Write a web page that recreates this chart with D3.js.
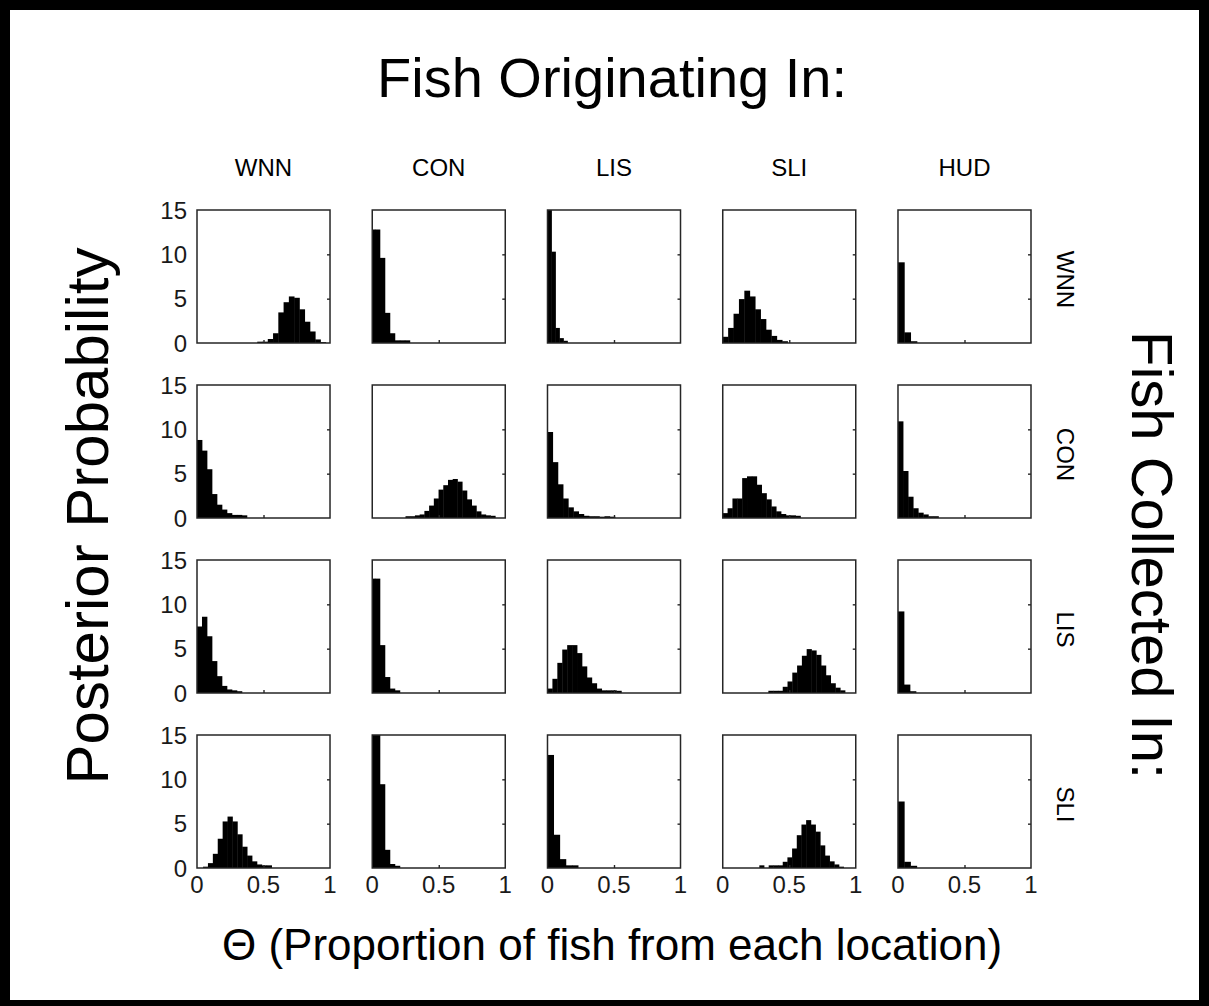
<!DOCTYPE html>
<html>
<head>
<meta charset="utf-8">
<script src="https://cdn.jsdelivr.net/npm/d3@7"></script>
<style>
  html, body { margin: 0; padding: 0; background: #000; }
  svg { display: block; }
  text { font-family: "Liberation Sans", Arial, Helvetica, sans-serif; fill: #000; }
</style>
</head>
<body>
<svg id="chart" width="1209" height="1006"></svg>
<script>
// Source location of the fish (columns) and where they were caught (rows)
const origins = ["WNN", "CON", "LIS", "SLI", "HUD"];
const collectedIn = ["WNN", "CON", "LIS", "SLI"];
const yTickValues = [0, 5, 10, 15];
const xTickValues = [0, 0.5, 1];
const yInnerTicks = [5, 10];
const xInnerTicks = [0.5];

// Posterior histograms of theta, one row per collection site.
// Each entry: lo = left edge of first bin, w = bin width, h = bar heights.
// Bins that start below 0 or run above 15 are cut off by the panel box.
const histWNN = [
  { lo: 0.453, w: 0.0396, h: [0.15, 0.15, 0.45, 1.1, 3.45, 4.6, 5.25, 5.1, 3.8, 2.4, 1.3, 0.4, 0.1] },
  { lo: -0.0175, w: 0.0375, h: [12.8, 12.8, 9.6, 3.4, 1.1, 0.3, 0.3, 0.3] },
  { lo: 0.0, w: 0.03, h: [16, 10.3, 1.7, 0.55, 0.25] },
  { lo: 0.0, w: 0.0406, h: [0.7, 1.7, 3.3, 4.95, 5.9, 5.25, 3.8, 2.7, 1.5, 0.8, 0.35, 0.2] },
  { lo: 0.0, w: 0.0475, h: [9.1, 1.2, 0.2] }
];
const histCON = [
  { lo: 0.0, w: 0.0375, h: [8.8, 7.6, 5.5, 2.7, 1.5, 0.95, 0.55, 0.35, 0.35, 0.3] },
  { lo: 0.25, w: 0.0355, h: [0.2, 0.2, 0.3, 0.4, 0.8, 1.4, 2.2, 3.2, 3.7, 4.3, 4.4, 4.1, 3.1, 2.1, 1.4, 0.75, 0.4, 0.3, 0.25] },
  { lo: 0.0, w: 0.039, h: [9.7, 6.3, 3.8, 2.2, 1.2, 0.75, 0.45, 0.25, 0.2, 0.2, 0.15, 0.2, 0.15] },
  { lo: 0.0, w: 0.0365, h: [0.55, 1.1, 2.2, 2.2, 4.5, 4.7, 4.7, 3.75, 2.8, 2.1, 1.3, 0.75, 0.45, 0.3, 0.3, 0.25] },
  { lo: 0.0, w: 0.038, h: [10.9, 5.3, 2.4, 1.1, 0.6, 0.4, 0.2, 0.2] }
];
const histLIS = [
  { lo: 0.0, w: 0.0375, h: [7.5, 8.6, 6.4, 3.6, 1.9, 0.8, 0.4, 0.3, 0.2] },
  { lo: -0.0175, w: 0.0375, h: [12.9, 12.9, 5.4, 1.8, 0.5, 0.3] },
  { lo: 0.0, w: 0.037, h: [0.5, 1.6, 3.4, 4.9, 5.4, 5.4, 4.5, 3.0, 1.75, 1.1, 0.5, 0.3, 0.3, 0.3, 0.25] },
  { lo: 0.343, w: 0.036, h: [0.25, 0.25, 0.25, 0.7, 1.3, 2.3, 3.1, 4.2, 4.95, 4.8, 4.3, 3.1, 2.0, 1.1, 0.6, 0.3] },
  { lo: 0.0, w: 0.045, h: [9.2, 0.95, 0.2] }
];
const histSLI = [
  { lo: 0.0455, w: 0.0368, h: [0.15, 0.55, 1.6, 3.3, 5.25, 5.8, 5.25, 3.8, 2.4, 1.4, 0.75, 0.4, 0.3, 0.3] },
  { lo: -0.0175, w: 0.0375, h: [16, 16, 9.45, 2.05, 0.45, 0.25] },
  { lo: 0.0, w: 0.046, h: [12.75, 3.75, 1.0, 0.3, 0.3] },
  { lo: 0.275, w: 0.0352, h: [0.3, 0.0, 0.3, 0.3, 0.3, 0.7, 1.2, 2.2, 3.7, 4.9, 5.4, 4.9, 4.1, 2.55, 1.4, 0.75, 0.4, 0.15] },
  { lo: 0.0, w: 0.047, h: [7.5, 0.7, 0.25] }
];
const rows = [histWNN, histCON, histLIS, histSLI];

const svg = d3.select("#chart");

// white page inside a dark frame
svg.append("rect").attr("x", 10).attr("y", 10).attr("width", 1189).attr("height", 990).attr("fill", "#fff");

// panel grid
const colBand = d3.scaleBand().domain(origins).range([197, 1031]).paddingInner(0.241);
const rowBand = d3.scaleBand().domain(collectedIn).range([210, 868]).paddingInner(0.24);
const pw = colBand.bandwidth(), ph = rowBand.bandwidth();

const x = d3.scaleLinear().domain([0, 1]).range([0, pw]);
const y = d3.scaleLinear().domain([0, 15]).range([ph, 0]);

svg.append("defs").append("clipPath").attr("id", "panel-clip")
  .append("rect").attr("width", pw).attr("height", ph);

const tickLen = 3;
const axStroke = "#262626";
const labelFill = "#1a1a1a";

collectedIn.forEach((rowName, r) => {
  origins.forEach((colName, c) => {
    const hist = rows[r][c];
    const g = svg.append("g")
      .attr("transform", `translate(${colBand(colName)},${rowBand(rowName)})`);

    // bars
    const bins = hist.h.map((v, i) => ({ x0: hist.lo + i * hist.w, x1: hist.lo + (i + 1) * hist.w, v }));
    g.append("g").attr("clip-path", "url(#panel-clip)")
      .selectAll("rect").data(bins.filter(b => b.v > 0)).join("rect")
      .attr("x", d => x(d.x0))
      .attr("width", d => x(d.x1) - x(d.x0) + 0.4)
      .attr("y", d => y(d.v))
      .attr("height", d => y(0) - y(d.v))
      .attr("fill", "#000");

    // short inward ticks: bottom edge and right edge
    const bottom = d3.axisBottom(x).tickValues(xInnerTicks).tickSize(-tickLen).tickFormat("");
    const right = d3.axisRight(y).tickValues(yInnerTicks).tickSize(-tickLen).tickFormat("");
    [[bottom, 0, ph], [right, pw, 0]].forEach(([ax, tx, ty]) => {
      const a = g.append("g").attr("transform", `translate(${tx},${ty})`).call(ax);
      a.select(".domain").remove();
      a.selectAll("line").attr("stroke", axStroke).attr("stroke-width", 1.4);
    });

    // box
    g.append("rect").attr("width", pw).attr("height", ph)
      .attr("fill", "none").attr("stroke", axStroke).attr("stroke-width", 1.5);

    // y tick labels on the first column
    if (c === 0) {
      g.append("g").selectAll("text").data(yTickValues).join("text")
        .attr("x", -10).attr("y", d => y(d)).attr("dy", "0.36em")
        .attr("text-anchor", "end").attr("font-size", 24).style("fill", labelFill)
        .text(d => d);
    }
    // x tick labels on the bottom row
    if (r === collectedIn.length - 1) {
      g.append("g").selectAll("text").data(xTickValues).join("text")
        .attr("x", d => x(d)).attr("y", ph + 25)
        .attr("text-anchor", "middle").attr("font-size", 24).style("fill", labelFill)
        .text(d => d);
    }
  });
});

// column headers
svg.append("g").selectAll("text").data(origins).join("text")
  .attr("x", d => colBand(d) + pw / 2).attr("y", 176)
  .attr("text-anchor", "middle").attr("font-size", 24)
  .text(d => d);

// row labels, rotated
svg.append("g").selectAll("text").data(collectedIn).join("text")
  .attr("transform", d => `translate(1057,${rowBand(d) + ph / 2 + 3}) rotate(90)`)
  .attr("text-anchor", "middle").attr("font-size", 24)
  .text(d => d);

// titles
svg.append("text").attr("x", 612).attr("y", 97).attr("text-anchor", "middle")
  .attr("font-size", 56).text("Fish Originating In:");

svg.append("text").attr("transform", "translate(108,516) rotate(-90)")
  .attr("text-anchor", "middle").attr("font-size", 60).text("Posterior Probability");

svg.append("text").attr("transform", "translate(1132,555) rotate(90)")
  .attr("text-anchor", "middle").attr("font-size", 58).text("Fish Collected In:");

svg.append("text").attr("x", 612).attr("y", 960).attr("text-anchor", "middle")
  .attr("font-size", 44).text("Θ (Proportion of fish from each location)");
</script>
</body>
</html>
